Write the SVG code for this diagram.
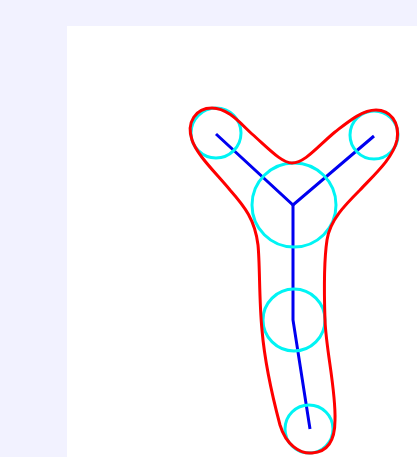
<svg xmlns="http://www.w3.org/2000/svg" width="417" height="457" viewBox="0 0 417 457">
<style>
.joint{fill:none;stroke:#00f4f4;stroke-width:3}
.bone{fill:none;stroke:#0000f0;stroke-width:3;stroke-linecap:butt;stroke-linejoin:miter}
.hull{fill:none;stroke:#ff0000;stroke-width:3}
</style>
<rect x="0" y="0" width="417" height="457" fill="#f2f2ff"/>
<rect x="67" y="26" width="350" height="431" fill="#ffffff"/>
<g id="connectors">
<polyline class="bone" points="216,134 293,205 374,136"/>
<polyline class="bone" points="293,205 293,320 310,429"/>
</g>
<g id="nodes">
<g id="node-left"><circle class="joint" cx="216" cy="133" r="25"/></g>
<g id="node-right"><circle class="joint" cx="374" cy="135" r="24"/></g>
<g id="node-center"><circle class="joint" cx="294" cy="205" r="42"/></g>
<g id="node-mid"><circle class="joint" cx="294" cy="320" r="31"/></g>
<g id="node-bottom"><circle class="joint" cx="309" cy="429" r="24"/></g>
</g>
<g id="outline">
<path class="hull" d="M 292,163 C 282,163 270,150 252,134 C 240,123 228,108 212,108 C 196,108 186,122 192,140 C 197,155 215,172 230,190 C 245,207 255,220 258,245 C 260,265 259,300 262,330 C 265,365 272,395 280,425 C 286,445 300,454 312,453 C 328,452 335,440 335,420 C 336,390 326,350 325,320 C 324,290 324,260 327,240 C 330,220 345,205 360,190 C 375,174 393,158 397,140 C 400,122 390,110 376,110 C 362,110 348,122 335,132 C 318,146 305,163 292,163 Z"/>
</g>
</svg>
